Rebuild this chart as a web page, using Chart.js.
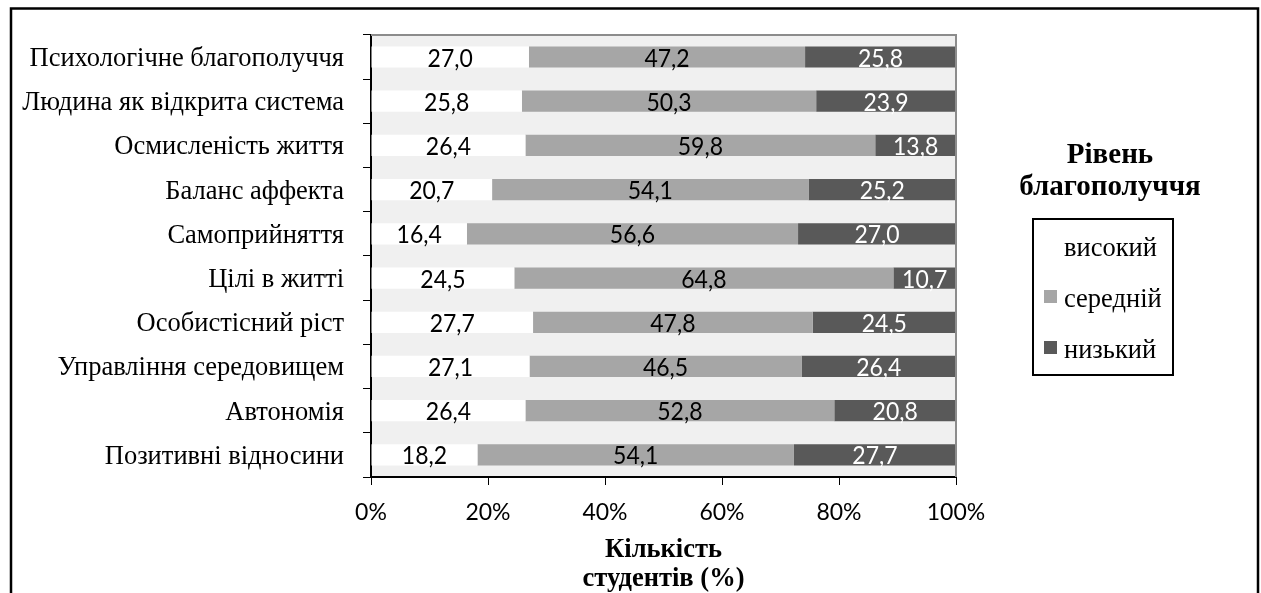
<!DOCTYPE html>
<html>
<head>
<meta charset="utf-8">
<script src="https://cdn.jsdelivr.net/npm/chart.js@4/dist/chart.umd.min.js"></script>
<style>
  html, body { margin: 0; padding: 0; background: #fff; }
  #wrap { width: 1261px; height: 593px; position: relative; }
</style>
</head>
<body>
<div id="wrap"><canvas id="c" width="1261" height="593"></canvas></div>
<script>
// Scales of psychological well-being, share of students by level (%)
const categories = [
  'Психологічне благополуччя',
  'Людина як відкрита система',
  'Осмисленість життя',
  'Баланс аффекта',
  'Самоприйняття',
  'Цілі в житті',
  'Особистісний ріст',
  'Управління середовищем',
  'Автономія',
  'Позитивні відносини'
];
const seriesNames = ['високий', 'середній', 'низький'];
const highLevel   = [27.0, 25.8, 26.4, 20.7, 16.4, 24.5, 27.7, 27.1, 26.4, 18.2];
const middleLevel = [47.2, 50.3, 59.8, 54.1, 56.6, 64.8, 47.8, 46.5, 52.8, 54.1];
const lowLevel    = [25.8, 23.9, 13.8, 25.2, 27.0, 10.7, 24.5, 26.4, 20.8, 27.7];
const xTicks = [0, 20, 40, 60, 80, 100];
const legendTitle = ['Рівень', 'благополуччя'];
const axisTitle = ['Кількість', 'студентів (%)'];

const colors = ['#ffffff', '#a6a6a6', '#595959'];
const labelColors = ['#000000', '#000000', '#ffffff'];
const serif = '"Liberation Serif", "Times New Roman", serif';
const sans = 'Lato, "Open Sans", sans-serif';

const fmt = v => v.toFixed(1).replace('.', ',');

// Frame, plot background and border
const backdrop = {
  id: 'backdrop',
  beforeDraw(chart) {
    const { ctx, chartArea: a } = chart;
    ctx.save();
    ctx.fillStyle = '#fff';
    ctx.fillRect(0, 0, chart.width, chart.height);
    ctx.fillStyle = '#f0f0f0';
    ctx.fillRect(a.left, a.top, a.right - a.left, a.bottom - a.top);
    // outer frame
    ctx.strokeStyle = '#000';
    ctx.lineWidth = 2.5;
    ctx.beginPath();
    ctx.moveTo(11, 600);
    ctx.lineTo(11, 8.5);
    ctx.lineTo(1258, 8.5);
    ctx.lineTo(1258, 600);
    ctx.stroke();
    ctx.restore();
  },
  afterDatasetsDraw(chart) {
    const { ctx, chartArea: a } = chart;
    ctx.save();
    ctx.strokeStyle = '#8c8c8c';
    ctx.lineWidth = 2;
    ctx.beginPath();
    ctx.moveTo(a.left, a.top);
    ctx.lineTo(a.right, a.top);
    ctx.lineTo(a.right, a.bottom);
    ctx.stroke();
    ctx.restore();
  }
};

// Value labels centred in each segment (slightly tall face)
const valueLabels = {
  id: 'valueLabels',
  afterDatasetsDraw(chart) {
    const { ctx } = chart;
    const sy = 1.12;
    ctx.save();
    ctx.font = '23px ' + sans;
    ctx.textAlign = 'center';
    ctx.textBaseline = 'alphabetic';
    chart.data.datasets.forEach((ds, di) => {
      const meta = chart.getDatasetMeta(di);
      meta.data.forEach((bar, i) => {
        const p = bar.getProps(['x', 'y', 'base'], true);
        ctx.save();
        ctx.translate((p.x + p.base) / 2, p.y + 9.5);
        ctx.scale(1, sy);
        ctx.fillStyle = labelColors[di];
        ctx.fillText(fmt(ds.data[i]), 0, 0);
        ctx.restore();
      });
    });
    ctx.restore();
  }
};

// Legend block and x-axis title
const annotations = {
  id: 'annotations',
  afterDraw(chart) {
    const { ctx, chartArea: a } = chart;
    ctx.save();
    ctx.fillStyle = '#000';
    ctx.textAlign = 'center';
    ctx.textBaseline = 'alphabetic';
    ctx.font = 'bold 29px ' + serif;
    ctx.fillText(legendTitle[0], 1110, 163);
    ctx.fillText(legendTitle[1], 1110, 195);

    ctx.font = 'bold 26.5px ' + serif;
    const cx = (a.left + a.right) / 2;
    ctx.fillText(axisTitle[0], cx, 557);
    ctx.fillText(axisTitle[1], cx, 586);

    // legend box
    ctx.strokeStyle = '#000';
    ctx.lineWidth = 2;
    ctx.strokeRect(1033, 219, 140, 156);
    ctx.font = '26.5px ' + serif;
    ctx.textAlign = 'left';
    const ys = [256, 307, 358];
    seriesNames.forEach((n, i) => {
      ctx.fillStyle = colors[i];
      ctx.fillRect(1044, ys[i] - 17, 13, 13);
      ctx.fillStyle = '#000';
      ctx.fillText(n, 1064, ys[i]);
    });
    ctx.restore();
  }
};

const datasets = [highLevel, middleLevel, lowLevel].map((d, i) => ({
  label: seriesNames[i],
  data: d,
  backgroundColor: colors[i],
  borderWidth: 0,
  categoryPercentage: 0.48,
  barPercentage: 1
}));

new Chart(document.getElementById('c'), {
  type: 'bar',
  data: { labels: categories, datasets },
  options: {
    indexAxis: 'y',
    responsive: false,
    animation: false,
    layout: { padding: { left: 10, top: 33, right: 305, bottom: 0 } },
    plugins: { legend: { display: false }, tooltip: { enabled: false } },
    scales: {
      x: {
        stacked: true,
        min: 0,
        max: 100,
        afterBuildTicks(scale) { scale.ticks = xTicks.map(v => ({ value: v })); },
        ticks: {
          callback: v => v + '%',
          font: { family: sans, size: 23 },
          color: '#000',
          padding: 14
        },
        grid: {
          drawOnChartArea: false,
          drawTicks: true,
          tickLength: 8,
          color: '#000',
          lineWidth: 1
        },
        border: { color: '#000', width: 2 },
        afterFit(scale) { scale.height = 593 - 477; }
      },
      y: {
        stacked: true,
        ticks: {
          font: { family: serif, size: 26.5 },
          color: '#000',
          padding: 19,
          labelOffset: 2
        },
        grid: {
          offset: true,
          drawOnChartArea: false,
          tickLength: 8,
          color: '#000',
          lineWidth: 1
        },
        border: { color: '#000', width: 2 },
        afterFit(scale) { scale.width = 371 - 10; }
      }
    }
  },
  plugins: [backdrop, valueLabels, annotations]
});
</script>
</body>
</html>
